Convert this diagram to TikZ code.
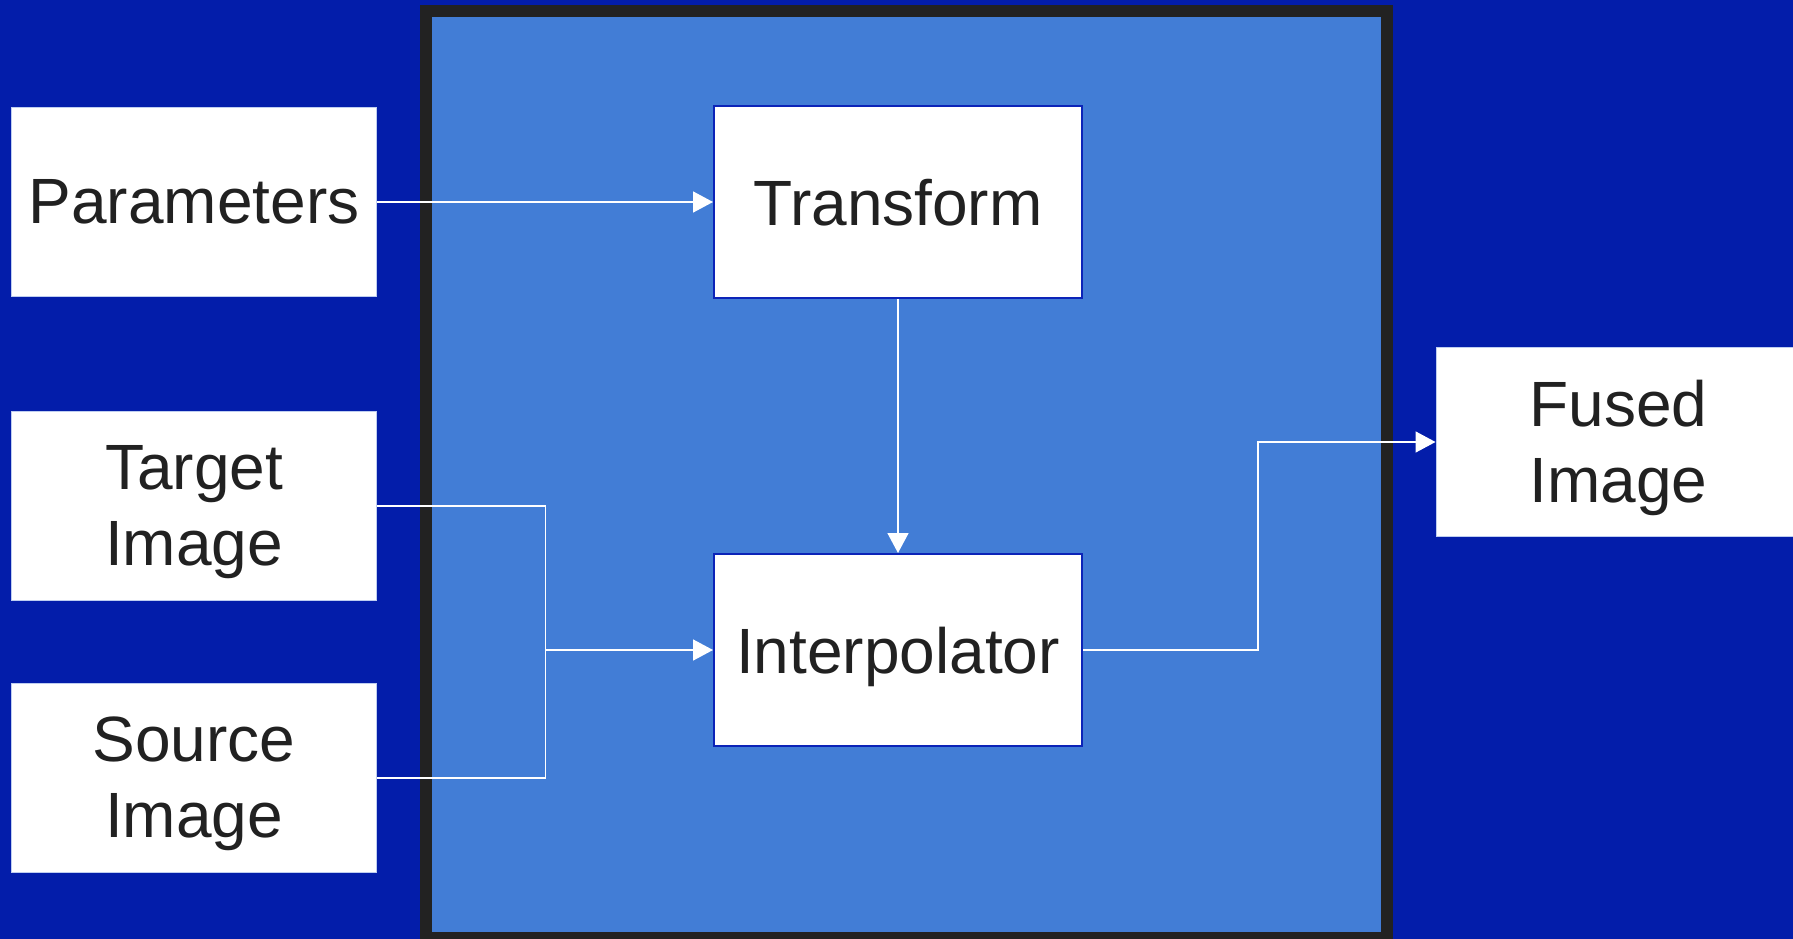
\documentclass[tikz,border=0pt]{standalone}
\usepackage{fontspec}
\setmainfont{Liberation Sans}
\usetikzlibrary{arrows.meta}
\definecolor{deepblue}{RGB}{3,29,170}
\definecolor{midblue}{RGB}{66,125,214}
\definecolor{framegray}{RGB}{34,34,34}
\definecolor{inkgray}{RGB}{33,33,33}
\definecolor{edgeblue}{RGB}{12,36,184}
\definecolor{paleedge}{RGB}{190,205,240}
\tikzset{
  block/.style={rectangle, fill=white, inner sep=0pt, align=center, text=inkgray,
    font=\fontsize{64}{76}\selectfont},
  inbox/.style={block, draw=paleedge, line width=1pt, minimum width=365pt, minimum height=189pt},
  twoline/.style={inbox, text depth=2pt},
  stage/.style={block, draw=edgeblue, line width=2pt, minimum width=368pt, minimum height=192pt,
    text depth=0pt},
  wire/.style={draw=white, line width=1.6pt},
  flow/.style={wire, -{Triangle[length=20pt, width=21pt]}}
}
\begin{document}
\begin{tikzpicture}[x=1pt, y=-1pt]
    \clip (0,0) rectangle (1793,939);
    \fill[deepblue] (0,0) rectangle (1793,939);
    \draw[framegray, fill=midblue, line width=12pt] (426,11.5) rectangle (1386.5,938);
    \node[inbox] (param) at (194,202) {Parameters};
    \foreach \name/\y/\txt in {target/506/Target, source/778/Source}
    \node[twoline] (\name) at (194,\y) {\txt\\Image};
    \node[stage] (trans) at (898,202) {Transform};
    \node[stage] (interp) at (898,650) {Interpolator};
    \node[twoline] (fused) at (1618.5,442) {Fused\\Image};
    \coordinate (join) at (545.5,650);
    \coordinate (bend) at (1258,442);
    \draw[flow] (param) -- (trans);
    \draw[flow] (trans) -- (interp);
    \draw[wire] (target.east) -| (join);
    \draw[wire] (source.east) -| (join);
    \draw[flow] (join) -- (interp.west);
    \draw[flow] (interp.east) -| (bend) -- (fused.west);
\end{tikzpicture}
\end{document}
